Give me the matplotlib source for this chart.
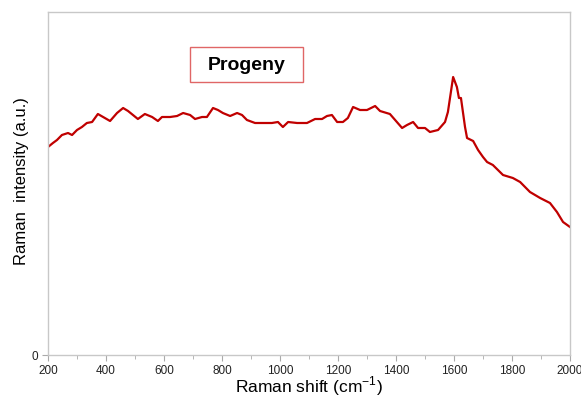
import matplotlib
matplotlib.use("Agg")
import matplotlib.pyplot as plt
from matplotlib.ticker import MultipleLocator
from matplotlib.patches import Rectangle

plt.rcParams['font.family'] = ['Liberation Sans', 'DejaVu Sans']
plt.rcParams['mathtext.fontset'] = 'custom'
plt.rcParams['mathtext.rm'] = 'Liberation Sans'

# Raman shift (cm-1) and intensity (a.u.)
shift = [200, 217, 231, 248, 269, 283, 300, 317, 334, 352, 372, 390, 414, 438, 459,
         476, 493, 510, 534, 559, 579, 593, 621, 645, 666, 690, 707, 731, 748, 769,
         786, 803, 828, 852, 869, 886, 914, 941, 972, 993, 1010, 1028, 1059, 1093,
         1121, 1145, 1162, 1179, 1197, 1217, 1234, 1252, 1276, 1300, 1328, 1345,
         1379, 1397, 1421, 1438, 1459, 1476, 1500, 1517, 1545, 1569, 1579, 1597,
         1610, 1617, 1624, 1638, 1645, 1666, 1683, 1700, 1714, 1734, 1769, 1803,
         1828, 1862, 1897, 1931, 1955, 1976, 2000]
intensity = [208, 212, 215, 220, 222, 220, 225, 228, 232, 233, 241, 238, 234, 242, 247,
             244, 240, 236, 241, 238, 234, 238, 238, 239, 242, 240, 236, 238, 238, 247,
             245, 242, 239, 242, 240, 235, 232, 232, 232, 233, 228, 233, 232, 232,
             236, 236, 239, 240, 233, 233, 237, 248, 245, 245, 249, 244,
             241, 235, 227, 230, 233, 227, 227, 223, 225, 233, 243, 278,
             268, 257, 257, 228, 217, 214, 205, 198, 193, 190, 180, 177,
             173, 163, 157, 152, 143, 133, 128]

x_ticks = [200, 400, 600, 800, 1000, 1200, 1400, 1600, 1800, 2000]
y_ticks = [0]
title_text = "Progeny"

fig = plt.figure(figsize=(5.81, 3.96), dpi=100)
ax = fig.add_axes([48/581, 1-355/396, (570-48)/581, (355-12)/396])

ax.plot(shift, intensity, color='#c00000', lw=1.6)

ax.set_xlim(200, 2000)
ax.set_ylim(0, 343)
ax.set_xticks(x_ticks)
ax.set_xticklabels([str(t) for t in x_ticks], fontsize=8.5, color='#222222')
ax.xaxis.set_minor_locator(MultipleLocator(100))
ax.set_yticks(y_ticks)
ax.set_yticklabels(['0'], fontsize=8.5, color='#222222')
ax.tick_params(axis='both', which='major', length=4, color='#aaaaaa', direction='out', pad=3)
ax.tick_params(axis='x', which='minor', length=3, color='#aaaaaa', direction='out')

for s in ax.spines.values():
    s.set_color('#c8c8c8')
    s.set_linewidth(1.0)

ax.set_xlabel('Raman shift (cm$^{\\mathregular{-1}}$)', fontsize=12.5)
ax.xaxis.set_label_coords(0.5, -0.057)
ax.set_ylabel('Raman  intensity (a.u.)', fontsize=12)
ax.yaxis.label.set_va('center')
ax.yaxis.set_label_coords(-0.05, 0.507)

ax.add_patch(Rectangle((0.272, 0.796), 0.2165, 0.102, transform=ax.transAxes,
                       facecolor='white', edgecolor='#e06666', linewidth=1.0, zorder=3))
ax.text(0.381, 0.845, title_text, transform=ax.transAxes, fontsize=14, fontweight='bold',
        ha='center', va='center', zorder=4)

fig.savefig('out.png', dpi=100)
